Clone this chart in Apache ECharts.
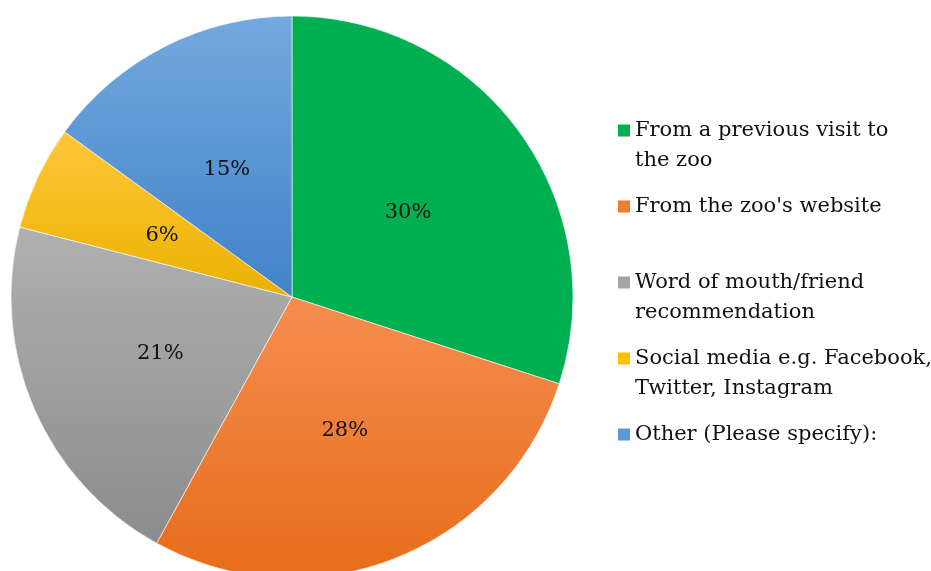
<!DOCTYPE html>
<html>
<head>
<meta charset="utf-8">
<script src="https://cdn.jsdelivr.net/npm/echarts@6/dist/echarts.min.js"></script>
<style>
  html, body { margin: 0; padding: 0; background: #fff; }
  #chart { width: 931px; height: 571px; }
</style>
</head>
<body>
<div id="chart"></div>
<script>
// How visitors heard about the zoo (share of responses, %)
const categories = [
  "From a previous visit to the zoo",
  "From the zoo's website",
  "Word of mouth/friend recommendation",
  "Social media e.g. Facebook, Twitter, Instagram",
  "Other (Please specify):"
];
const shares = [30, 28, 21, 6, 15];

// Legend text broken over lines as printed
const legendLines = [
  ["From a previous visit to", "the zoo"],
  ["From the zoo's website"],
  ["Word of mouth/friend", "recommendation"],
  ["Social media e.g. Facebook,", "Twitter, Instagram"],
  ["Other (Please specify):"]
];

// Slice fills: [top, bottom] of each slice's vertical gradient
const fills = [
  ["#00B050", "#00B050"],
  ["#F58D50", "#E76D1A"],
  ["#B0B0B0", "#8C8C8C"],
  ["#FFC73A", "#EAB100"],
  ["#74A9DE", "#4182C9"]
];
const swatch = ["#00B050", "#ED7D31", "#A5A5A5", "#FFC000", "#5B9BD5"];

const FONT = "'DejaVu Serif', 'Liberation Serif', serif";
const FONT_SIZE = 21;

const grad = (c) => new echarts.graphic.LinearGradient(0, 0, 0, 1, [
  { offset: 0, color: c[0] },
  { offset: 1, color: c[1] }
]);

const rich = {
  t: { fontFamily: FONT, fontSize: FONT_SIZE, color: "#111", lineHeight: 30 },
  ind: { width: 17, height: 12, lineHeight: 30 }
};
swatch.forEach((c, i) => {
  rich["s" + i] = { width: 12, height: 12, backgroundColor: c, lineHeight: 30 };
  rich["g" + i] = { width: 5, height: 12, lineHeight: 30 };
});

const chart = echarts.init(document.getElementById("chart"), null, { renderer: "canvas" });
chart.setOption({
  animation: false,
  backgroundColor: "#ffffff",
  legend: {
    orient: "vertical",
    left: 617,
    top: 120,
    padding: 0,
    itemGap: 25,
    itemWidth: 1,
    itemHeight: 12,
    icon: "rect",
    itemStyle: { color: "rgba(0,0,0,0)", borderWidth: 0 },
    selectedMode: false,
    data: categories,
    formatter: (name) => {
      const i = categories.indexOf(name);
      const lines = legendLines[i].slice();
      // every entry takes a two-line slot
      while (lines.length < 2) lines.push("\u00a0");
      return lines.map((l, k) =>
        (k === 0 ? `{s${i}|}{g${i}|}` : "{ind|}") + `{t|${l}}`
      ).join("\n");
    },
    textStyle: { rich: rich, padding: [0, 0, 0, -5] }
  },
  series: [{
    type: "pie",
    center: [292, 297],
    radius: [0, 281],
    startAngle: 90,
    clockwise: true,
    avoidLabelOverlap: false,
    label: {
      show: true,
      position: "inside",
      formatter: (p) => p.value + "%",
      fontFamily: FONT,
      fontSize: FONT_SIZE,
      color: "#111"
    },
    labelLine: { show: false },
    emphasis: { disabled: true },
    itemStyle: { borderColor: "#ffffff", borderWidth: 0.6 },
    data: categories.map((name, i) => ({
      name: name,
      value: shares[i],
      itemStyle: { color: grad(fills[i]) }
    }))
  }]
});
</script>
</body>
</html>
